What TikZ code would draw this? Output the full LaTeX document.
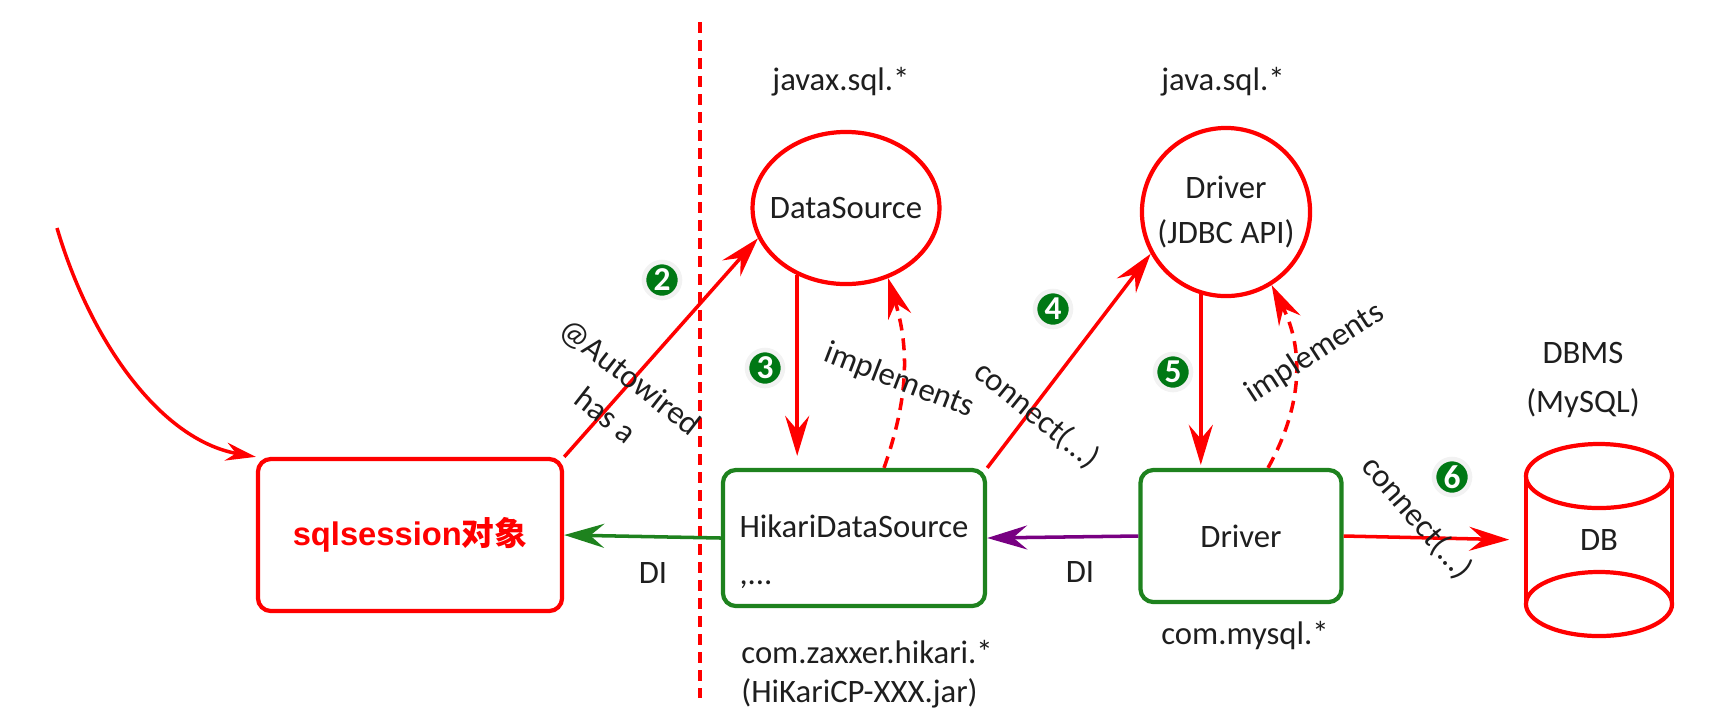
\documentclass[tikz,border=0pt]{standalone}
\usepackage{fontspec}
\setmainfont{Carlito}
\newfontfamily\cjkfont{Noto Sans CJK SC}
\newfontfamily\arialfont{Liberation Sans}
\usetikzlibrary{arrows.meta,shapes.geometric}

\definecolor{lred}{RGB}{255,0,0}
\definecolor{lgreen}{RGB}{30,130,30}
\definecolor{badgegreen}{RGB}{0,120,20}
\definecolor{lpurple}{RGB}{120,0,130}
\definecolor{txtgray}{RGB}{30,30,30}

\tikzset{
  every node/.style={font=\fontsize{9.3}{11}\selectfont, text=txtgray},
  redbox/.style={draw=lred, line width=1.2pt, rounded corners=0.13cm},
  greenbox/.style={draw=lgreen, line width=1.2pt, rounded corners=0.13cm},
  redell/.style={draw=lred, line width=1.2pt, ellipse, inner sep=-0.1cm},
  badge/.style={circle, fill=badgegreen, draw=gray!10, line width=1.3pt,
    inner sep=0pt, minimum size=0.36cm, text=white,
    font=\fontsize{9.5}{9.5}\selectfont\bfseries},
  arr/.style={line width=1pt, -{Stealth[length=4mm,width=2.4mm,inset=1.4mm]}},
  dashy/.style={dash pattern=on 1.2mm off 0.8mm},
}

\begin{document}
\begin{tikzpicture}[x=0.01cm, y=-0.01cm]
    \useasboundingbox (0,0) rectangle (1712,720);

    % boundary line
    \draw[lred, line width=0.9pt, dash pattern=on 1.1mm off 0.7mm] (700,22) -- (700,698);

    % boxes and circles
    \node[redbox, minimum width=3.04cm, minimum height=1.52cm, text=lred] (sql) at (410,535)
        {\arialfont\bfseries sqlsession{\cjkfont\bfseries 对象}};
    \node[greenbox, minimum width=2.62cm, minimum height=1.36cm, align=left] (hikari) at (854,538)
        {\rule{0pt}{5mm}HikariDataSource\\[2.5pt],...};
    \node[greenbox, minimum width=2.01cm, minimum height=1.32cm] (drvbox) at (1241,536) {Driver};
    \node[redell, minimum width=1.84cm, minimum height=1.52cm] (ds) at (846,208) {DataSource};
    \node[redell, minimum width=1.68cm, minimum height=1.68cm, align=center] (drv) at (1226,212)
        {Driver\\[2pt](JDBC API)};

    % database
    \draw[lred, line width=1.2pt] (1599,476) ellipse [x radius=0.73cm, y radius=0.32cm];
    \draw[lred, line width=1.2pt] (1599,604) ellipse [x radius=0.73cm, y radius=0.32cm];
    \draw[lred, line width=1.2pt] (1526,476) -- (1526,604);
    \draw[lred, line width=1.2pt] (1672,476) -- (1672,604);
    \node[minimum width=1.46cm, minimum height=1.6cm] (db) at (1599,540) {DB};

    % package labels
    \node (javax) at (841,82) {javax.sql.*};
    \node (java) at (1223,82) {java.sql.*};
    \node[align=center] (dbms) at (1583,380) {DBMS\\[3pt](MySQL)};
    \node[align=left, anchor=west] (hikpkg) at (729,674) {com.zaxxer.hikari.*\\(HiKariCP-XXX.jar)};
    \node (mysqlpkg) at (1245,636) {com.mysql.*};

    % steps
    \node[badge] (b2) at (662,280) {2};
    \node[badge] (b3) at (765,368) {3};
    \node[badge] (b4) at (1053,309) {4};
    \node[badge] (b5) at (1173,372) {5};
    \node[badge] (b6) at (1452,477) {6};

    % arrows
    \coordinate (start) at (57,228);
    \draw[lred, line width=1pt, -{Stealth[length=3mm,width=1.8mm,inset=1mm]}]
        (start) .. controls (90,340) and (160,440) .. (sql.north west);
    \draw[arr, lred] (sql.north east) -- (ds.199);
    \draw[arr, lred, shorten >=0.12cm] (ds.234) -- (ds.234 |- hikari.north);
    \draw[arr, lred, dashy] ([xshift=0.3cm]hikari.north) to[bend right=18] (ds.301);
    \draw[arr, lred] (hikari.north east) -- (drv.209);
    \draw[arr, lred, shorten >=0.03cm] (drv.253) -- (drv.253 |- drvbox.north);
    \draw[arr, lred, dashy] ([xshift=0.27cm]drvbox.north) to[bend right=28] (drv.302);
    \draw[arr, lpurple] (drvbox.west) -- (hikari.east);
    \draw[arr, lgreen] (hikari.west) -- (sql.east);
    \draw[arr, lred, shorten >=0.16cm] (drvbox.east) -- (db.west);

    % edge labels
    \node[rotate=-38] (autow) at (630,378) {@Autowired};
    \node[rotate=-38] (hasa) at (606,415) {has a};
    \node[rotate=-21] (impl1) at (899,381) {implements};
    \node[rotate=-39] (conn1) at (1037,415) {connect(...)};
    \node[rotate=33] (impl2) at (1315,353) {implements};
    \node[rotate=-49] (conn2) at (1417,518) {connect(...)};
    \node (di1) at (653,573) {DI};
    \node (di2) at (1080,572) {DI};
\end{tikzpicture}
\end{document}
